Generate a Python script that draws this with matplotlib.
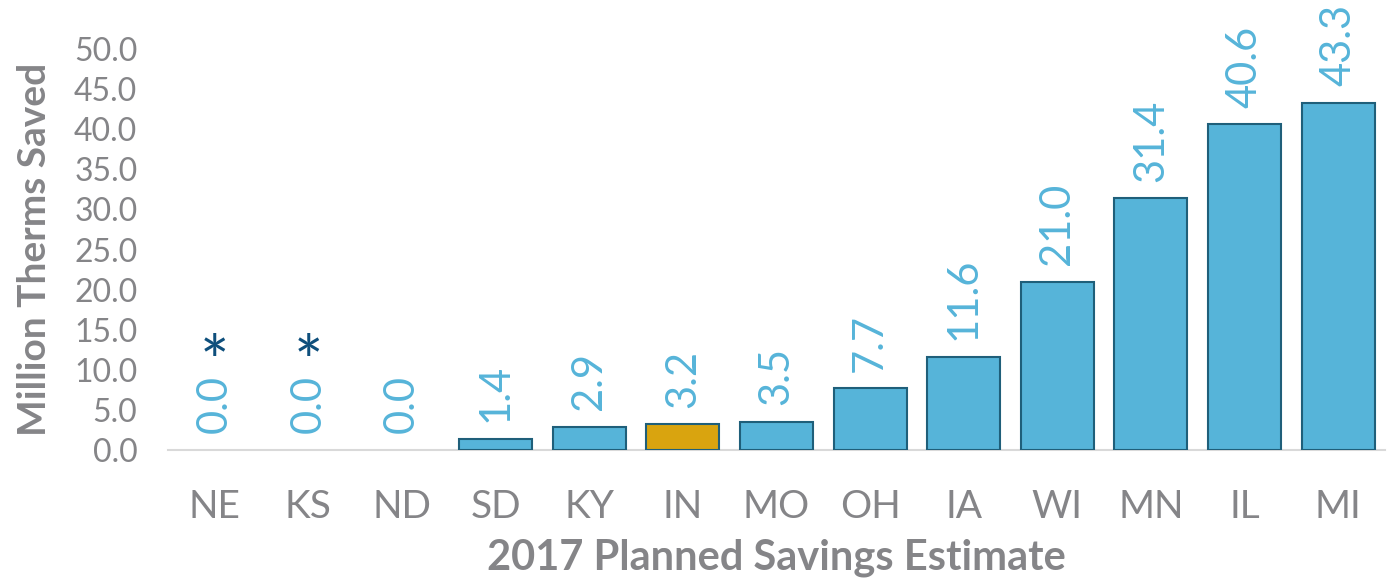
import matplotlib.pyplot as plt
import numpy as np

states = ["NE", "KS", "ND", "SD", "KY", "IN", "MO", "OH", "IA", "WI", "MN", "IL", "MI"]
savings = [0.0, 0.0, 0.0, 1.4, 2.9, 3.2, 3.5, 7.7, 11.6, 21.0, 31.4, 40.6, 43.3]
starred = ["NE", "KS"]
highlight = "IN"

blue = "#56B4D9"
gold = "#D9A40F"
edge = "#1F5F7A"
grey = "#858588"

plt.rcParams['font.family'] = ['Lato', 'DejaVu Sans']

fig = plt.figure(figsize=(13.95, 5.85), dpi=100)
ax = fig.add_axes([0.1204, 0.2308, 0.8724, 0.6854])

x = np.arange(len(states))
colors = [gold if s == highlight else blue for s in states]
widths = [1.5 if v > 0 else 0 for v in savings]
ax.bar(x, savings, width=0.78, color=colors, edgecolor=edge, linewidth=widths, zorder=3)

for xi, v, s in zip(x, savings, states):
    ax.annotate(f"{v:.1f}", (xi, v), xytext=(0, 12), textcoords="offset points",
                rotation=90, ha="center", va="bottom", fontsize=30, color=blue)
    if s in starred:
        # asterisk marks states without a plan
        ax.annotate("*", (xi, v), xytext=(0, 46), textcoords="offset points",
                    ha="center", va="baseline", fontsize=50, color="#0E4F7C")

ax.set_xlim(-0.5, len(states) - 0.5)
ax.set_ylim(0, 50)
ax.set_yticks(np.arange(0, 50.1, 5))
ax.set_yticklabels([f"{t:.1f}" for t in np.arange(0, 50.1, 5)])
ax.set_xticks(x)
ax.set_xticklabels(states)
ax.tick_params(axis="y", length=0, pad=22, labelsize=23, labelcolor=grey)
ax.tick_params(axis="x", length=0, pad=28, labelsize=28, labelcolor=grey)

for side in ["top", "right", "left"]:
    ax.spines[side].set_visible(False)
ax.spines["bottom"].set_color("#d9d9d9")
ax.spines["bottom"].set_linewidth(1.5)

ax.set_ylabel("Million Therms Saved", fontsize=28, fontweight="bold", color=grey, labelpad=16)
ax.set_xlabel("2017 Planned Savings Estimate", fontsize=30, fontweight="bold", color=grey, labelpad=10)

fig.savefig("out.png", dpi=100)
